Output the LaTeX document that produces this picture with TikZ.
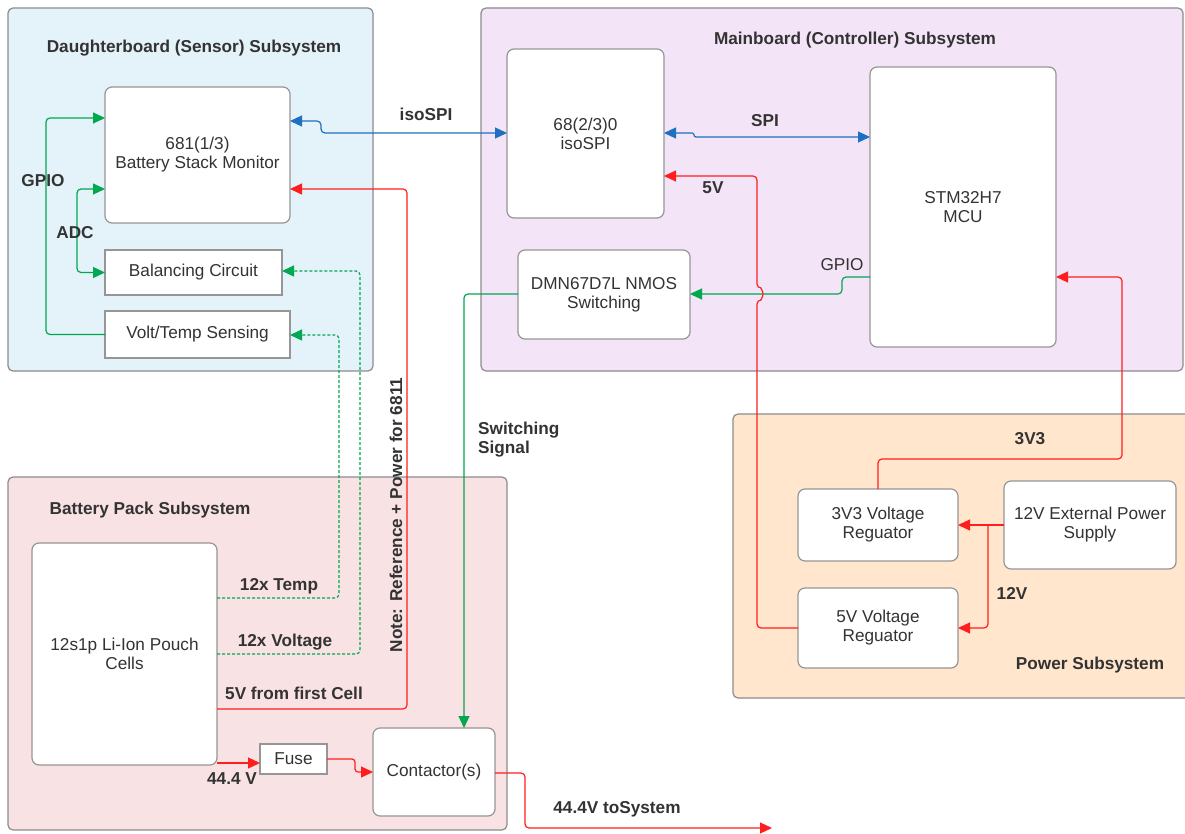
\documentclass[tikz,border=0pt]{standalone}
\usepackage{fontspec}
\setmainfont{Liberation Sans}
\usetikzlibrary{arrows.meta}
\definecolor{tx}{RGB}{51,51,51}
\definecolor{bord}{RGB}{150,150,150}
\definecolor{cbord}{RGB}{140,140,140}
\definecolor{dbfill}{RGB}{228,243,249}
\definecolor{mbfill}{RGB}{243,228,247}
\definecolor{pwfill}{RGB}{255,230,204}
\definecolor{bpfill}{RGB}{249,226,227}
\definecolor{lred}{RGB}{255,30,30}
\definecolor{lgrn}{RGB}{0,168,80}
\definecolor{lblu}{RGB}{30,112,192}
\newcommand{\fs}{\fontsize{17.2}{19}\selectfont}
\begin{document}
\begin{tikzpicture}[x=1pt,y=-1pt,
  cont/.style={draw=cbord,line width=1.2pt,rounded corners=5pt},
  box/.style={draw=bord,fill=white,rounded corners=7pt,line width=1.2pt,align=center,inner sep=0pt,outer sep=0pt,font=\fs,text=tx},
  sqbox/.style={box,rounded corners=0pt},
  ttl/.style={font=\fs\bfseries,text=tx,inner sep=0pt},
  lbl/.style={font=\fs\bfseries,text=tx,inner sep=0pt},
  lblr/.style={font=\fs,text=tx,inner sep=0pt},
  tip/.style={-{Triangle[length=12pt,width=11pt]}},
  wire/.style={line width=1.2pt,rounded corners=4pt},
  rd/.style={wire,draw=lred,tip},
  gr/.style={wire,draw=lgrn,tip},
  grd/.style={wire,draw=lgrn,tip,dash pattern=on 3pt off 2pt},
  bl/.style={wire,draw=lblu,{Triangle[length=12pt,width=11pt]}-{Triangle[length=12pt,width=11pt]}},
]
\useasboundingbox (0,0) rectangle (1185,834);
\fill[white] (0,0) rectangle (1185,834);
% containers
\draw[cont,fill=dbfill] (8,8) rectangle (373,371);
\draw[cont,fill=mbfill] (481,8) rectangle (1183,371);
\draw[cont,fill=pwfill] (733,414) rectangle (1195,698);
\draw[cont,fill=bpfill] (8,477) rectangle (507,830);
\node[ttl] (tdb) at (194,48) {Daughterboard (Sensor) Subsystem};
\node[ttl] (tmb) at (855,40) {Mainboard (Controller) Subsystem};
\node[ttl] (tpw) at (1090,665) {Power Subsystem};
\node[ttl] (tbp) at (150,510) {Battery Pack Subsystem};
% boxes
\node[box,minimum width=185pt,minimum height=136pt] (bsm) at (197.5,155) {681(1/3)\\Battery Stack Monitor};
\node[sqbox,minimum width=177pt,minimum height=45pt] (bal) at (193.5,272.5) {Balancing Circuit};
\node[sqbox,minimum width=185pt,minimum height=47pt] (vts) at (197.5,334.5) {Volt/Temp Sensing};
\node[box,minimum width=157pt,minimum height=169pt] (iso) at (585.5,133.5) {68(2/3)0\\isoSPI};
\node[box,minimum width=186pt,minimum height=280pt] (mcu) at (963,207) {STM32H7\\MCU};
\node[box,minimum width=172pt,minimum height=89pt] (dmn) at (604,294.5) {DMN67D7L NMOS\\Switching};
\node[box,minimum width=160pt,minimum height=72pt] (r33) at (878,525) {3V3 Voltage\\Reguator};
\node[box,minimum width=160pt,minimum height=80pt] (r5) at (878,628) {5V Voltage\\Reguator};
\node[box,minimum width=172pt,minimum height=88pt] (ext) at (1090,525) {12V External Power\\Supply};
\node[box,minimum width=185pt,minimum height=222pt] (cells) at (124.5,654) {12s1p Li-Ion Pouch\\Cells};
\node[sqbox,minimum width=67pt,minimum height=30pt] (fuse) at (293.5,759) {Fuse};
\node[box,minimum width=122pt,minimum height=88pt] (cont) at (434,772) {Contactor(s)};
\coordinate (sys) at (772,828);
% daughterboard wires
\draw[gr] (vts.west) -- (46,334.5) -- (46,118) -- (bsm.west |- 0,118);
\draw[gr,{Triangle[length=12pt,width=11pt]}-{Triangle[length=12pt,width=11pt]}] (bsm.west |- 0,189) -- (77,189) -- (77,272.5) -- (bal.west);
\draw[bl] (bsm.east |- 0,121) -- (321,121) -- (321,133) -- (iso.west |- 0,133);
% battery wires
\draw[grd] (cells.east |- 0,598) -- (339,598) -- (339,335) -- (vts.east |- 0,335);
\draw[grd] (cells.east |- 0,654) -- (360,654) -- (360,271) -- (bal.east |- 0,271);
\draw[rd] (cells.east |- 0,709) -- (407,709) -- (407,189) -- (bsm.east |- 0,189);
\draw[rd] (cells.east |- 0,763) -- (fuse.west |- 0,763);
\draw[rd,rounded corners=3pt] (fuse.east) -- (355,759) -- (355,772) -- (cont.west);
\draw[rd] (cont.east |- 0,773) -- (525,773) -- (525,828) -- (sys);
% mainboard wires
\draw[bl,rounded corners=2pt] (iso.east |- 0,133) -- (694,133) -- (694,137) -- (mcu.west |- 0,137);
\draw[gr] (mcu.west |- 0,277) -- (842,277) -- (842,294) -- (dmn.east |- 0,294);
\draw[gr] (dmn.west |- 0,294) -- (464,294) -- (464,0 |- cont.north);
\draw[rd] (r5.west) -- (757,628) -- (757,300) arc[start angle=-90,end angle=90,radius=6pt] -- (757,176) -- (iso.east |- 0,176);
% power wires
\draw[rd] (r33.north) -- (878,459) -- (1122,459) -- (1122,277) -- (mcu.east |- 0,277);
\draw[rd] (ext.west) -- (r33.east);
\draw[rd] (988,525) -- (988,628) -- (r5.east);
% labels
\node[lbl] (lgpio1) at (43,181) {GPIO};
\node[lbl] (ladc) at (75,233) {ADC};
\node[lbl] (liso) at (426,114) {isoSPI};
\node[lbl] (lspi) at (765,121) {SPI};
\node[lbl] (l5v) at (713,188) {5V};
\node[lblr] (lgpio2) at (842,265) {GPIO};
\node[lbl,align=left,anchor=west] (lsw) at (478,440) {Switching\\Signal};
\node[lbl] (l3v3) at (1030,439) {3V3};
\node[lbl] (l12v) at (1012,593) {12V};
\node[lbl] (ltemp) at (279,586) {12x Temp};
\node[lbl] (lvolt) at (285,642) {12x Voltage};
\node[lbl] (l5vc) at (294,693) {5V from first Cell};
\node[lbl] (l444) at (232,779) {44.4 V};
\node[lbl] (lsys) at (617,809) {44.4V toSystem};
\node[lbl,rotate=90] (lnote) at (396,515) {Note: Reference + Power for 6811};
\end{tikzpicture}
\end{document}
